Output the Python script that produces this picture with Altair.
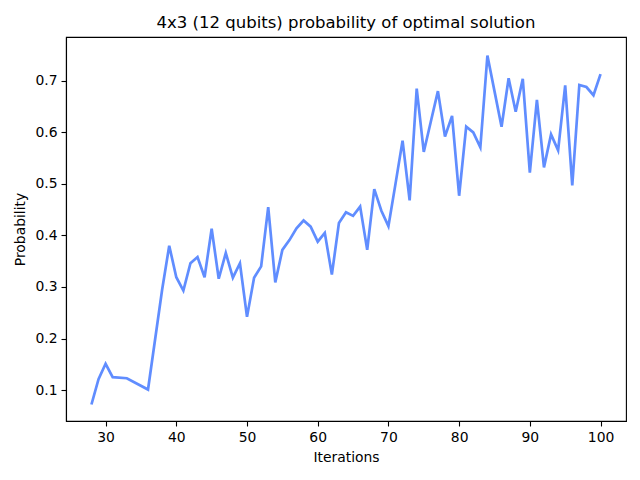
import altair as alt
import pandas as pd

iterations = [28, 29, 30, 31, 33, 36, 38, 39, 40, 41, 42, 43, 44, 45, 46, 47, 48, 49,
              50, 51, 52, 53, 54, 55, 56, 57, 58, 59, 60, 61, 62, 63, 64, 65, 66, 67,
              68, 69, 70, 71, 72, 73, 74, 75, 76, 77, 78, 79, 80, 81, 82, 83, 84, 85,
              86, 87, 88, 89, 90, 91, 92, 93, 94, 95, 96, 97, 98, 99, 100]
probability = [0.072, 0.121, 0.151, 0.125, 0.123, 0.101, 0.295, 0.380, 0.319, 0.293,
               0.346, 0.358, 0.319, 0.413, 0.316, 0.366, 0.318, 0.346, 0.242, 0.318,
               0.340, 0.455, 0.309, 0.372, 0.391, 0.414, 0.429, 0.417, 0.388, 0.405,
               0.324, 0.424, 0.445, 0.438, 0.456, 0.372, 0.490, 0.448, 0.418, 0.500,
               0.584, 0.468, 0.685, 0.562, 0.621, 0.680, 0.592, 0.632, 0.477, 0.611,
               0.600, 0.571, 0.749, 0.680, 0.611, 0.705, 0.640, 0.704, 0.522, 0.663,
               0.532, 0.596, 0.565, 0.691, 0.497, 0.692, 0.688, 0.672, 0.713]
x_ticks = [30, 40, 50, 60, 70, 80, 90, 100]
y_ticks = [0.1, 0.2, 0.3, 0.4, 0.5, 0.6, 0.7]

df = pd.DataFrame({"Iterations": iterations, "Probability": probability})

FONT = "DejaVu Sans"

chart = alt.Chart(df).mark_line(color="#608DFF", strokeWidth=2.7).encode(
    x=alt.X("Iterations:Q",
            scale=alt.Scale(domain=[24.4, 103.6], nice=False, zero=False),
            axis=alt.Axis(values=x_ticks, title="Iterations", format="d")),
    y=alt.Y("Probability:Q",
            scale=alt.Scale(domain=[0.040, 0.785], nice=False, zero=False),
            axis=alt.Axis(values=y_ticks, title="Probability", format=".1f")),
).properties(
    width=560,
    height=384,
    title=alt.TitleParams("4x3 (12 qubits) probability of optimal solution",
                          font=FONT, fontSize=16.5, fontWeight="normal",
                          color="black", anchor="middle", offset=6),
    autosize=alt.AutoSizeParams(type="none"),
    padding={"left": 58, "top": 29, "right": 6, "bottom": 51},
).configure_view(
    stroke="black", strokeWidth=1.1
).configure_axis(
    grid=False,
    domainColor="black",
    domainWidth=1.1,
    tickColor="black",
    tickSize=5,
    tickWidth=1.1,
    labelFont=FONT,
    labelFontSize=13.9,
    labelColor="black",
    labelPadding=4,
    titleFont=FONT,
    titleFontSize=13.9,
    titleFontWeight="normal",
    titleColor="black",
).configure_axisX(
    titlePadding=7,
).configure_axisY(
    titlePadding=7,
)

chart.save("out.html", embed_options={"renderer": "svg", "actions": False})
